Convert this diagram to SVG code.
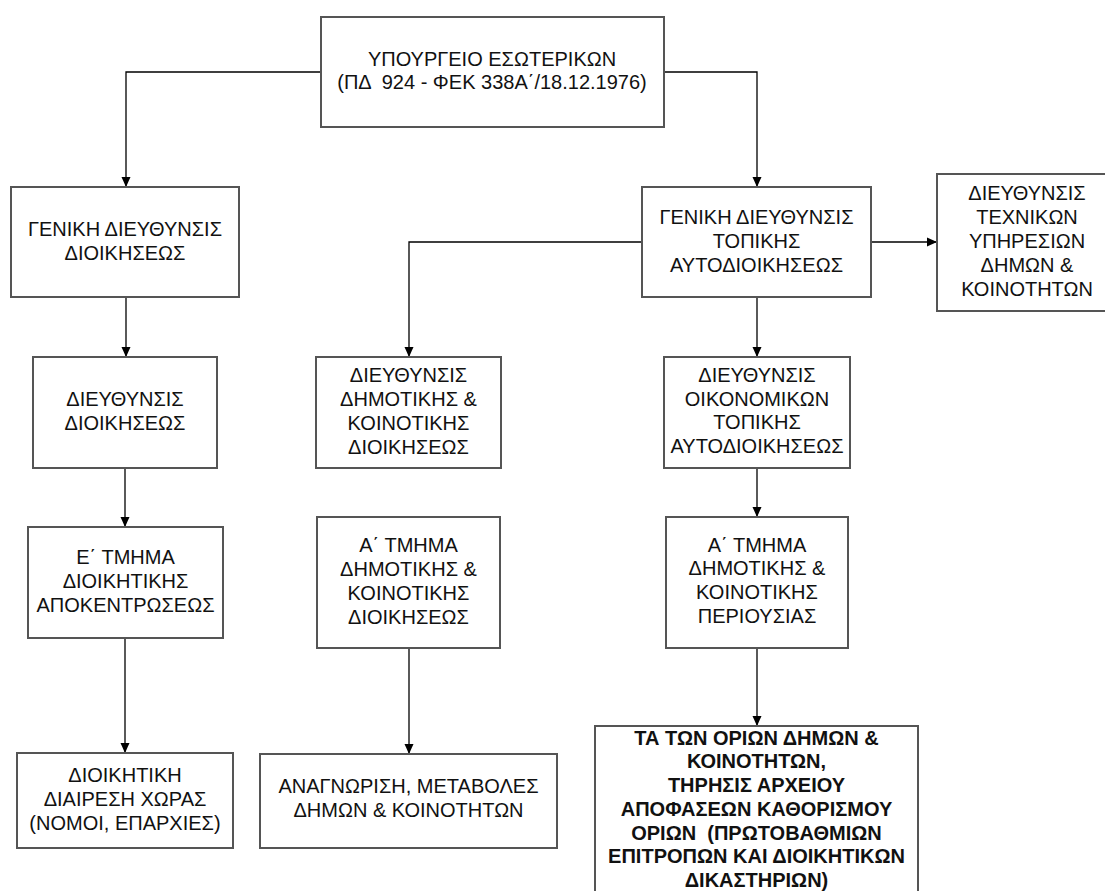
<svg xmlns="http://www.w3.org/2000/svg" width="1105" height="891" viewBox="0 0 1105 891">
<defs>
<marker id="arr" markerUnits="userSpaceOnUse" markerWidth="10" markerHeight="10" viewBox="0 0 10 10" refX="10" refY="5" orient="auto">
<path d="M0,0.5 L10,5 L0,9.5 Z" fill="#000"/>
</marker>
<style>
.box{fill:#fff;stroke:#555;stroke-width:2}
.t{font-family:"Liberation Sans",Arial,sans-serif;font-size:20px;fill:#111;text-anchor:middle}
.b{font-weight:bold}
.c{fill:none;stroke:#000;stroke-width:1.3;marker-end:url(#arr)}
</style>
</defs>
<rect width="1105" height="891" fill="#fff"/>
<g id="connectors">
<path class="c" d="M321,72 H126 V187"/>
<path class="c" d="M664,72 H757 V187"/>
<path class="c" d="M642,242 H409 V357"/>
<path class="c" d="M871,242 H937"/>
<path class="c" d="M126,297 V357"/>
<path class="c" d="M757,297 V357"/>
<path class="c" d="M125,468 V527"/>
<path class="c" d="M757,468 V517"/>
<path class="c" d="M125,638 V753"/>
<path class="c" d="M409,648 V754"/>
<path class="c" d="M757,648 V726"/>
</g>
<g id="n-ypourgeio">
<rect class="box" x="321" y="17" width="343" height="110"/>
<text class="t" x="492" y="66">ΥΠΟΥΡΓΕΙΟ ΕΣΩΤΕΡΙΚΩΝ</text>
<text class="t" x="492" y="89" xml:space="preserve">(ΠΔ  924 - ΦΕΚ 338Α΄/18.12.1976)</text>
</g>
<g id="n-gen-dioikiseos">
<rect class="box" x="11" y="187" width="228" height="110"/>
<text class="t" x="125" y="236">ΓΕΝΙΚΗ ΔΙΕΥΘΥΝΣΙΣ</text>
<text class="t" x="125" y="260">ΔΙΟΙΚΗΣΕΩΣ</text>
</g>
<g id="n-gen-topikis">
<rect class="box" x="642" y="187" width="229" height="110"/>
<text class="t" x="756.5" y="224">ΓΕΝΙΚΗ ΔΙΕΥΘΥΝΣΙΣ</text>
<text class="t" x="756.5" y="248">ΤΟΠΙΚΗΣ</text>
<text class="t" x="756.5" y="272">ΑΥΤΟΔΙΟΙΚΗΣΕΩΣ</text>
</g>
<g id="n-texnikon">
<rect class="box" x="937" y="174" width="180" height="137"/>
<text class="t" x="1027" y="200">ΔΙΕΥΘΥΝΣΙΣ</text>
<text class="t" x="1027" y="224">ΤΕΧΝΙΚΩΝ</text>
<text class="t" x="1027" y="248">ΥΠΗΡΕΣΙΩΝ</text>
<text class="t" x="1027" y="272">ΔΗΜΩΝ &amp;</text>
<text class="t" x="1027" y="296">ΚΟΙΝΟΤΗΤΩΝ</text>
</g>
<g id="n-dieyth-dioikiseos">
<rect class="box" x="33" y="357" width="184" height="111"/>
<text class="t" x="125" y="406">ΔΙΕΥΘΥΝΣΙΣ</text>
<text class="t" x="125" y="430">ΔΙΟΙΚΗΣΕΩΣ</text>
</g>
<g id="n-dieyth-dimotikis">
<rect class="box" x="316" y="357" width="185" height="111"/>
<text class="t" x="408.5" y="382">ΔΙΕΥΘΥΝΣΙΣ</text>
<text class="t" x="408.5" y="406">ΔΗΜΟΤΙΚΗΣ &amp;</text>
<text class="t" x="408.5" y="430">ΚΟΙΝΟΤΙΚΗΣ</text>
<text class="t" x="408.5" y="454">ΔΙΟΙΚΗΣΕΩΣ</text>
</g>
<g id="n-dieyth-oikonomikon">
<rect class="box" x="664" y="357" width="186" height="111"/>
<text class="t" x="757" y="382">ΔΙΕΥΘΥΝΣΙΣ</text>
<text class="t" x="757" y="406">ΟΙΚΟΝΟΜΙΚΩΝ</text>
<text class="t" x="757" y="429">ΤΟΠΙΚΗΣ</text>
<text class="t" x="757" y="453">ΑΥΤΟΔΙΟΙΚΗΣΕΩΣ</text>
</g>
<g id="n-e-tmima">
<rect class="box" x="28" y="527" width="195" height="111"/>
<text class="t" x="125.5" y="564">Ε΄ ΤΜΗΜΑ</text>
<text class="t" x="125.5" y="588">ΔΙΟΙΚΗΤΙΚΗΣ</text>
<text class="t" x="125.5" y="612">ΑΠΟΚΕΝΤΡΩΣΕΩΣ</text>
</g>
<g id="n-a-tmima-dioikiseos">
<rect class="box" x="317" y="517" width="183" height="131"/>
<text class="t" x="408.5" y="552">Α΄ ΤΜΗΜΑ</text>
<text class="t" x="408.5" y="576">ΔΗΜΟΤΙΚΗΣ &amp;</text>
<text class="t" x="408.5" y="600">ΚΟΙΝΟΤΙΚΗΣ</text>
<text class="t" x="408.5" y="624">ΔΙΟΙΚΗΣΕΩΣ</text>
</g>
<g id="n-a-tmima-periousias">
<rect class="box" x="666" y="517" width="182" height="131"/>
<text class="t" x="757" y="552">Α΄ ΤΜΗΜΑ</text>
<text class="t" x="757" y="575">ΔΗΜΟΤΙΚΗΣ &amp;</text>
<text class="t" x="757" y="599">ΚΟΙΝΟΤΙΚΗΣ</text>
<text class="t" x="757" y="623">ΠΕΡΙΟΥΣΙΑΣ</text>
</g>
<g id="n-dioikitiki-diairesi">
<rect class="box" x="17" y="753" width="216" height="95"/>
<text class="t" x="125" y="782">ΔΙΟΙΚΗΤΙΚΗ</text>
<text class="t" x="125" y="806">ΔΙΑΙΡΕΣΗ ΧΩΡΑΣ</text>
<text class="t" x="125" y="830">(ΝΟΜΟΙ, ΕΠΑΡΧΙΕΣ)</text>
</g>
<g id="n-anagnorisi">
<rect class="box" x="260" y="754" width="297" height="94"/>
<text class="t" x="408.5" y="793">ΑΝΑΓΝΩΡΙΣΗ, ΜΕΤΑΒΟΛΕΣ</text>
<text class="t" x="408.5" y="817">ΔΗΜΩΝ &amp; ΚΟΙΝΟΤΗΤΩΝ</text>
</g>
<g id="n-oria">
<rect class="box" x="595" y="726" width="323" height="180"/>
<text class="t b" x="756.5" y="745">ΤΑ ΤΩΝ ΟΡΙΩΝ ΔΗΜΩΝ &amp;</text>
<text class="t b" x="756.5" y="768">ΚΟΙΝΟΤΗΤΩΝ,</text>
<text class="t b" x="756.5" y="792">ΤΗΡΗΣΙΣ ΑΡΧΕΙΟΥ</text>
<text class="t b" x="756.5" y="816">ΑΠΟΦΑΣΕΩΝ ΚΑΘΟΡΙΣΜΟΥ</text>
<text class="t b" x="756.5" y="840" xml:space="preserve">ΟΡΙΩΝ  (ΠΡΩΤΟΒΑΘΜΙΩΝ</text>
<text class="t b" x="756.5" y="863">ΕΠΙΤΡΟΠΩΝ ΚΑΙ ΔΙΟΙΚΗΤΙΚΩΝ</text>
<text class="t b" x="756.5" y="887">ΔΙΚΑΣΤΗΡΙΩΝ)</text>
</g>
</svg>
